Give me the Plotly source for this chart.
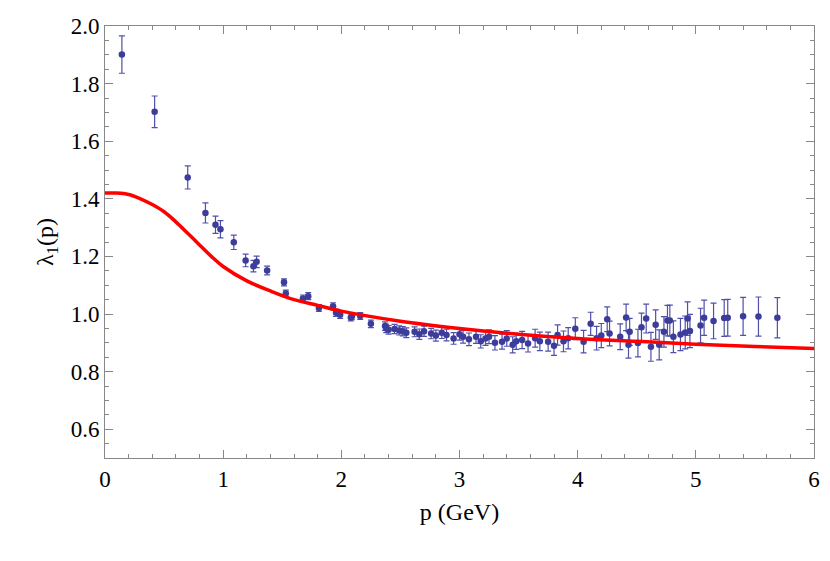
import plotly.graph_objects as go

# lattice data: p (GeV), lambda_1, error
p_data = [0.143, 0.42, 0.70, 0.85, 0.935, 0.977, 1.09, 1.19, 1.256, 1.283, 1.372,
          1.515, 1.53, 1.675, 1.72, 1.81, 1.93, 1.955, 1.99, 2.08, 2.09, 2.16, 2.25,
          2.37, 2.38, 2.40, 2.45, 2.49, 2.52, 2.55, 2.62, 2.66, 2.70, 2.76, 2.80,
          2.85, 2.89, 2.95, 3.00, 3.03, 3.08, 3.14, 3.18, 3.22, 3.25, 3.30, 3.36,
          3.40, 3.45, 3.48, 3.53, 3.58, 3.64, 3.68, 3.75, 3.80, 3.83, 3.88, 3.92,
          3.98, 4.05, 4.11, 4.16, 4.20, 4.25, 4.27, 4.36, 4.41, 4.43, 4.44, 4.51,
          4.54, 4.58, 4.62, 4.66, 4.69, 4.73, 4.76, 4.78, 4.81, 4.87, 4.91, 4.93,
          4.95, 5.04, 5.07, 5.15, 5.24, 5.27, 5.40, 5.53, 5.69]
v_data = [1.901, 1.702, 1.474, 1.351, 1.31, 1.294, 1.249, 1.186, 1.166, 1.181, 1.151,
          1.11, 1.071, 1.054, 1.062, 1.021, 1.027, 1.004, 0.997, 0.988, 0.992, 0.993, 0.966,
          0.958, 0.950, 0.945, 0.948, 0.943, 0.940, 0.935, 0.938, 0.930, 0.940, 0.932, 0.925,
          0.935, 0.927, 0.915, 0.930, 0.921, 0.912, 0.921, 0.905, 0.915, 0.921, 0.900, 0.904,
          0.915, 0.893, 0.905, 0.91, 0.898, 0.916, 0.905, 0.904, 0.890, 0.927, 0.905, 0.916,
          0.949, 0.904, 0.966, 0.916, 0.925, 0.982, 0.932, 0.921, 0.988, 0.893, 0.938, 0.899,
          0.954, 0.984, 0.886, 0.963, 0.893, 0.938, 0.977, 0.977, 0.921, 0.929, 0.936, 0.984,
          0.941, 0.96, 0.987, 0.976, 0.986, 0.987, 0.992, 0.991, 0.987]
e_data = [0.065, 0.055, 0.04, 0.035, 0.03, 0.03, 0.025, 0.022, 0.02, 0.02, 0.015,
          0.012, 0.012, 0.012, 0.012, 0.012, 0.012, 0.012, 0.012, 0.012, 0.012, 0.012, 0.013,
          0.015, 0.015, 0.015, 0.016, 0.016, 0.016, 0.017, 0.017, 0.018, 0.018, 0.018, 0.019,
          0.02, 0.02, 0.02, 0.021, 0.022, 0.022, 0.023, 0.023, 0.024, 0.024, 0.025, 0.026,
          0.027, 0.028, 0.028, 0.03, 0.03, 0.031, 0.032, 0.033, 0.034, 0.035, 0.036, 0.037,
          0.038, 0.039, 0.04, 0.041, 0.042, 0.043, 0.043, 0.045, 0.046, 0.046, 0.047, 0.048,
          0.049, 0.05, 0.05, 0.051, 0.052, 0.053, 0.053, 0.054, 0.055, 0.056, 0.057, 0.058,
          0.058, 0.06, 0.061, 0.062, 0.064, 0.064, 0.066, 0.068, 0.07]

# model curve
p_curve = [0, 0.1, 0.2, 0.3, 0.4, 0.5, 0.6, 0.7, 0.8, 0.9, 1.0, 1.2, 1.4, 1.6,
           1.8, 2.0, 2.5, 3.0, 3.5, 4.0, 4.5, 5.0, 5.5, 6.0]
v_curve = [1.42, 1.42, 1.415, 1.40, 1.38, 1.355, 1.32, 1.28, 1.24, 1.20, 1.165,
           1.115, 1.08, 1.05, 1.03, 1.01, 0.975, 0.95, 0.93, 0.915, 0.905, 0.895,
           0.887, 0.88]

blue = "rgb(60,60,155)"

fig = go.Figure()

fig.add_trace(go.Scatter(
    x=p_data, y=v_data, mode="markers",
    marker=dict(size=6.5, color=blue),
    error_y=dict(type="data", array=e_data, color="rgb(80,80,170)", thickness=1.2, width=3),
    showlegend=False
))

fig.add_trace(go.Scatter(
    x=p_curve, y=v_curve, mode="lines",
    line=dict(color="rgb(255,0,0)", width=3.5, shape="spline"),
    showlegend=False
))

axis_common = dict(
    showgrid=False, zeroline=False, showline=True, linecolor="#888", linewidth=1,
    mirror="ticks", ticks="inside", ticklen=8, tickcolor="#888", automargin=False,
    tickfont=dict(family="Liberation Serif", size=23, color="black"),
    title_font=dict(family="Liberation Serif", size=24, color="black"),
)

fig.update_xaxes(range=[0, 6], dtick=1, title_text="p (GeV)", title_standoff=12,
                 minor=dict(ticks="inside", ticklen=4, dtick=0.2, tickcolor="#888"),
                 **axis_common)
fig.update_yaxes(range=[0.5, 2.0], dtick=0.2, tick0=0.6, tickformat=".1f",
                 title_text="λ<sub>1</sub>(p)", title_standoff=10,
                 minor=dict(ticks="inside", ticklen=4, dtick=0.05, tickcolor="#888"),
                 **axis_common)

fig.update_layout(
    autosize=True,
    margin=dict(l=97, r=8, t=18, b=95, pad=0),
    plot_bgcolor="white", paper_bgcolor="white",
)

fig.write_html("out.html", default_width="100%", default_height="100%")
